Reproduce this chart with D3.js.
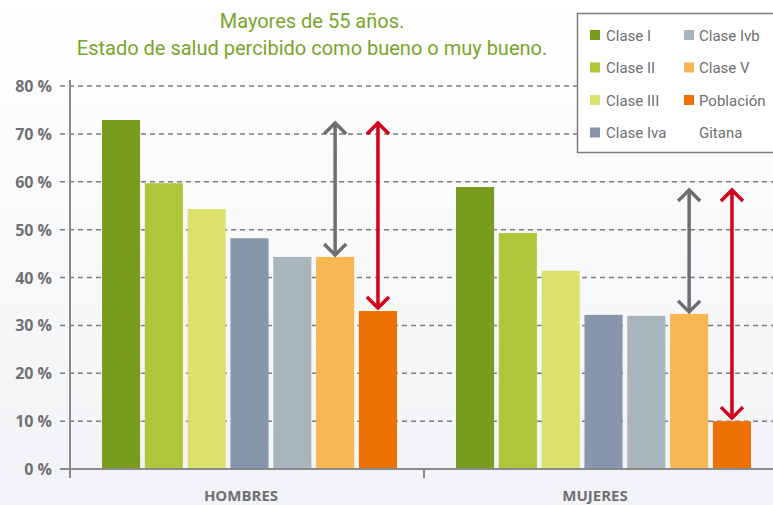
<!DOCTYPE html>
<html>
<head>
<meta charset="utf-8">
<script src="https://cdn.jsdelivr.net/npm/d3@7"></script>
<style>
  body { margin: 0; }
  svg { display: block; }
</style>
</head>
<body>
<div id="chart"></div>
<script>
const groups = ["HOMBRES", "MUJERES"];
const classes = ["Clase I", "Clase II", "Clase III", "Clase Iva", "Clase Ivb", "Clase V", "Población"];
const hombres = [72.9, 59.7, 54.3, 48.2, 44.3, 44.3, 33.0];
const mujeres = [58.9, 49.3, 41.4, 32.2, 32.0, 32.4, 10.0];
const colors = ["#789c1e", "#b0c63a", "#dce06c", "#8796ab", "#a8b5bd", "#f8b752", "#ee7203"];
const yTicks = [0, 10, 20, 30, 40, 50, 60, 70, 80];
const titleLines = ["Mayores de 55 años.", "Estado de salud percibido como bueno o muy bueno."];

const width = 773;
const height = 505;

const svg = d3.select("#chart").append("svg")
    .attr("width", width)
    .attr("height", height);

const defs = svg.append("defs");
const grad = defs.append("linearGradient")
    .attr("id", "bg")
    .attr("x1", 0).attr("y1", 0).attr("x2", 0).attr("y2", 1);
grad.append("stop").attr("offset", "0%").attr("stop-color", "#ffffff");
grad.append("stop").attr("offset", "100%").attr("stop-color", "#f2f3f6");

svg.append("rect")
    .attr("width", width)
    .attr("height", height)
    .attr("fill", "url(#bg)");

// scales
const y = d3.scaleLinear().domain([0, 80]).range([469, 86]);
const x0 = d3.scaleBand().domain(groups).range([70, 778]);
const x1 = d3.scaleBand().domain(classes).range([32, 327]).paddingInner(0.11);

const rows = groups.map((g, i) => ({
  group: g,
  values: classes.map((c, j) => ({ cls: c, value: (i === 0 ? hombres : mujeres)[j], color: colors[j] }))
}));

// grid
svg.append("g").selectAll("line")
  .data(yTicks.filter(t => t > 0))
  .join("line")
    .attr("x1", 60)
    .attr("x2", width)
    .attr("y1", d => y(d))
    .attr("y2", d => y(d))
    .attr("stroke", "#7d7d80")
    .attr("stroke-width", 1.5)
    .attr("stroke-dasharray", "5,4");

// tick labels
svg.append("g").selectAll("text")
  .data(yTicks)
  .join("text")
    .attr("x", 52)
    .attr("y", d => y(d) + 6)
    .attr("text-anchor", "end")
    .attr("font-family", "'Open Sans', sans-serif")
    .attr("font-weight", "bold")
    .attr("font-size", 16)
    .attr("fill", "#707073")
    .text(d => d + " %");

// bars
const grp = svg.append("g").selectAll("g")
  .data(rows)
  .join("g")
    .attr("transform", d => `translate(${x0(d.group)},0)`);

grp.selectAll("rect")
  .data(d => d.values)
  .join("rect")
    .attr("x", d => x1(d.cls))
    .attr("width", x1.bandwidth())
    .attr("y", d => y(d.value))
    .attr("height", d => y(0) - y(d.value))
    .attr("fill", d => d.color);

// axes lines
svg.append("line")
    .attr("x1", 70).attr("x2", 70)
    .attr("y1", 80).attr("y2", 478)
    .attr("stroke", "#8a8a8e").attr("stroke-width", 2);

svg.append("line")
    .attr("x1", 60).attr("x2", width)
    .attr("y1", y(0)).attr("y2", y(0))
    .attr("stroke", "#8a8a8e").attr("stroke-width", 2);

svg.append("line")
    .attr("x1", x0("MUJERES")).attr("x2", x0("MUJERES"))
    .attr("y1", y(0)).attr("y2", 478)
    .attr("stroke", "#8a8a8e").attr("stroke-width", 2);

svg.append("g").selectAll("text")
  .data(groups)
  .join("text")
    .attr("x", d => x0(d) + x0.bandwidth() / 2 - 6)
    .attr("y", 501)
    .attr("text-anchor", "middle")
    .attr("font-family", "'Open Sans', sans-serif")
    .attr("font-weight", "bold")
    .attr("font-size", 15)
    .attr("fill", "#707073")
    .text(d => d);

// difference arrows: from Clase I down to Clase V (grey) and to Población (red)
function arrow(g, xc, yTop, yBot, color) {
  const a = g.append("g")
      .attr("stroke", color)
      .attr("stroke-width", 3.5)
      .attr("fill", "none")
      .attr("stroke-linecap", "butt");
  a.append("line")
      .attr("x1", xc).attr("x2", xc)
      .attr("y1", yTop + 1).attr("y2", yBot - 1);
  a.append("path")
      .attr("d", `M${xc - 11},${yTop + 12} L${xc},${yTop + 1} L${xc + 11},${yTop + 12}`);
  a.append("path")
      .attr("d", `M${xc - 11},${yBot - 12} L${xc},${yBot - 1} L${xc + 11},${yBot - 12}`);
}

const arrows = svg.append("g");
rows.forEach(r => {
  const bx = x0(r.group);
  const top = r.values[0].value;
  const v = r.values[5];
  const p = r.values[6];
  arrow(arrows, bx + x1(v.cls) + x1.bandwidth() / 2, y(top) + 2, y(v.value) - 1, "#6d6d72");
  arrow(arrows, bx + x1(p.cls) + x1.bandwidth() / 2, y(top) + 2, y(p.value) - 2, "#d2001a");
});

// title
svg.append("g").selectAll("text")
  .data(titleLines)
  .join("text")
    .attr("x", 312)
    .attr("y", (d, i) => 28 + i * 27)
    .attr("text-anchor", "middle")
    .attr("font-family", "Roboto, sans-serif")
    .attr("font-size", 20)
    .attr("fill", "#7aa52c")
    .text(d => d);

// legend
const legend = svg.append("g");
legend.append("rect")
    .attr("x", 577.5).attr("y", 13.5)
    .attr("width", 210).attr("height", 139)
    .attr("fill", "#ffffff")
    .attr("stroke", "#7d7d80")
    .attr("stroke-width", 1.5);

const items = legend.selectAll("g")
  .data(classes)
  .join("g")
    .attr("transform", (d, i) => `translate(${i < 4 ? 590 : 684},${35 + (i % 4) * 32.5})`);

items.append("rect")
    .attr("x", 0).attr("y", -5)
    .attr("width", 10).attr("height", 10)
    .attr("fill", (d, i) => colors[i]);

items.append("text")
    .attr("x", (d, i) => i < 4 ? 16 : 15)
    .attr("y", 5.5)
    .attr("font-family", "Roboto, sans-serif")
    .attr("font-size", 15)
    .attr("fill", "#6d6e71")
    .text(d => d);

legend.append("text")
    .attr("x", 699)
    .attr("y", 35 + 3 * 32.5 + 5.5)
    .attr("font-family", "Roboto, sans-serif")
    .attr("font-size", 15)
    .attr("fill", "#6d6e71")
    .text("Gitana");
</script>
</body>
</html>
